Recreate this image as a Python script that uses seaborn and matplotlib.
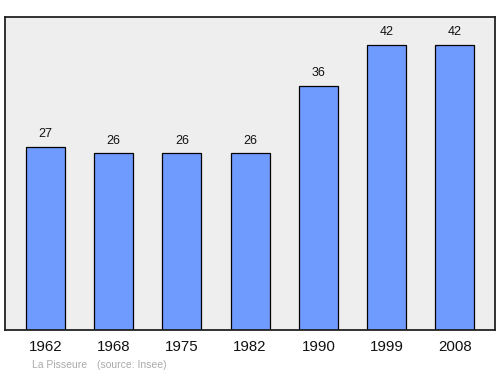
import matplotlib
matplotlib.use("Agg")
import matplotlib.pyplot as plt
import seaborn as sns
import pandas as pd

years = ["1962", "1968", "1975", "1982", "1990", "1999", "2008"]
population = [27, 26, 26, 26, 36, 42, 42]
footer_place = "La Pisseure"
footer_source = "(source: Insee)"

sns.set_theme(style="white")
plt.rcParams['font.family'] = ['Liberation Sans', 'DejaVu Sans']

df = pd.DataFrame({"year": years, "pop": population})

fig = plt.figure(figsize=(5.0, 3.74), dpi=100)
ax = fig.add_axes([5/500, 1 - 330/374, 490/500, (330-17)/374])
ax.set_facecolor("#eeeeee")

sns.barplot(data=df, x="year", y="pop", color="#6f9bfe", saturation=1,
            edgecolor="black", linewidth=0.9, width=0.57, ax=ax)

for i, v in enumerate(population):
    ax.annotate(str(v), (i, v), xytext=(0, 5), textcoords="offset points",
                ha="center", va="bottom", fontsize=9, color="#111111")

ax.set_xlim(-0.593, 6.59)
ax.set_ylim(0, 46.1)
ax.set_yticks([])
ax.set_xlabel("")
ax.set_ylabel("")
ax.tick_params(axis="x", length=0, pad=7, labelsize=10.8, colors="#111111")
for s in ax.spines.values():
    s.set_visible(True)
    s.set_color("#222222")
    s.set_linewidth(1.3)

fig.text(32/500, 1 - 365/374, footer_place, fontsize=7.5, color="#aaaaaa", va="center", ha="left")
fig.text(97/500, 1 - 365/374, footer_source, fontsize=7.5, color="#aaaaaa", va="center", ha="left")

fig.savefig("out.png", dpi=100)
